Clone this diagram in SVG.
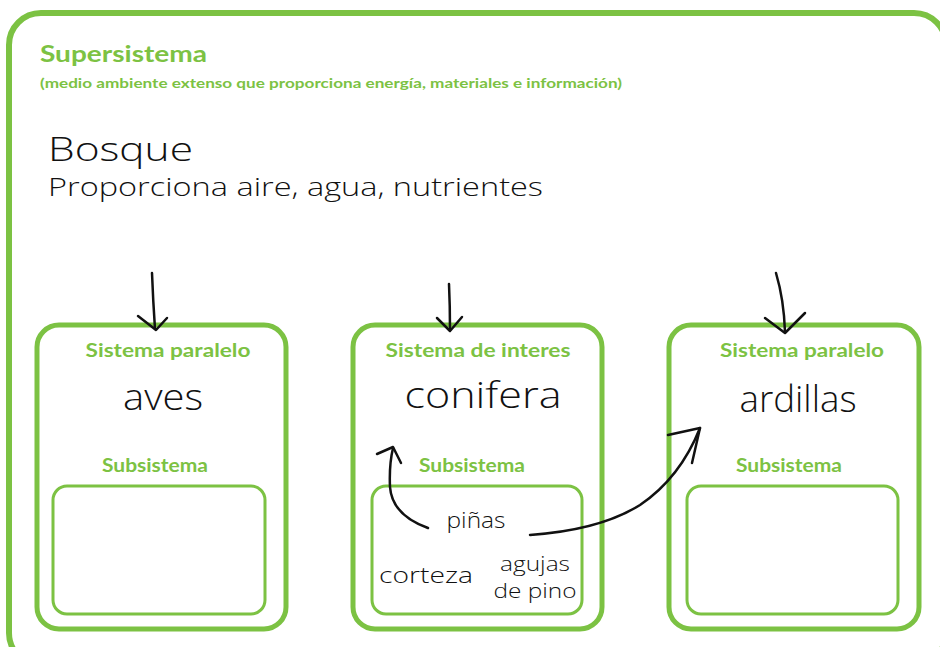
<svg xmlns="http://www.w3.org/2000/svg" width="940" height="647" viewBox="0 0 940 647">
<style>
.frame{fill:none;stroke:#7cc243;stroke-width:6}
.box{fill:none;stroke:#7cc243;stroke-width:5}
.sub{fill:none;stroke:#7cc243;stroke-width:3}
.g{font-family:Lato,"Open Sans","Liberation Sans",sans-serif;font-weight:700;fill:#7cc243}
.h{font-family:"Open Sans","DejaVu Sans",sans-serif;font-weight:300;fill:#111}
.arr{fill:none;stroke:#111;stroke-width:2.5;stroke-linecap:round;stroke-linejoin:round}
</style>
<rect width="940" height="647" fill="#fff"/>
<g id="supersistema">
<rect class="frame" x="9" y="13" width="937" height="652" rx="32"/>
<text class="g" x="40" y="62" font-size="22" textLength="167" lengthAdjust="spacingAndGlyphs">Supersistema</text>
<text class="g" x="40" y="88" font-size="13" textLength="582" lengthAdjust="spacingAndGlyphs">(medio ambiente extenso que proporciona energía, materiales e información)</text>
<text class="h" x="48" y="161" font-size="33" textLength="145" lengthAdjust="spacingAndGlyphs">Bosque</text>
<text class="h" x="48" y="196" font-size="25" textLength="495" lengthAdjust="spacingAndGlyphs">Proporciona aire, agua, nutrientes</text>
</g>
<g id="aves">
<rect class="box" x="37" y="325" width="249" height="304" rx="22"/>
<text class="g" x="168" y="357" font-size="18" text-anchor="middle" textLength="165" lengthAdjust="spacingAndGlyphs">Sistema paralelo</text>
<text class="h" x="163" y="410" font-size="36" text-anchor="middle" textLength="80" lengthAdjust="spacingAndGlyphs">aves</text>
<text class="g" x="155" y="472" font-size="18" text-anchor="middle" textLength="106" lengthAdjust="spacingAndGlyphs">Subsistema</text>
<rect class="sub" x="53" y="486" width="212" height="128" rx="14"/>
</g>
<g id="conifera">
<rect class="box" x="353" y="325" width="249" height="304" rx="22"/>
<text class="g" x="478" y="357" font-size="18" text-anchor="middle" textLength="185" lengthAdjust="spacingAndGlyphs">Sistema de interes</text>
<text class="h" x="483" y="408" font-size="36" text-anchor="middle" textLength="157" lengthAdjust="spacingAndGlyphs">conifera</text>
<text class="g" x="472" y="472" font-size="18" text-anchor="middle" textLength="106" lengthAdjust="spacingAndGlyphs">Subsistema</text>
<rect class="sub" x="372" y="486" width="210" height="128" rx="14"/>
<text class="h" x="476" y="528" font-size="22" text-anchor="middle" textLength="59" lengthAdjust="spacingAndGlyphs">piñas</text>
<text class="h" x="426" y="583" font-size="22" text-anchor="middle" textLength="94" lengthAdjust="spacingAndGlyphs">corteza</text>
<text class="h" x="535" y="571" font-size="20" text-anchor="middle" textLength="70" lengthAdjust="spacingAndGlyphs">agujas</text>
<text class="h" x="535" y="598" font-size="20" text-anchor="middle" textLength="83" lengthAdjust="spacingAndGlyphs">de pino</text>
</g>
<g id="ardillas">
<rect class="box" x="669" y="325" width="250" height="304" rx="22"/>
<text class="g" x="802" y="357" font-size="18" text-anchor="middle" textLength="164" lengthAdjust="spacingAndGlyphs">Sistema paralelo</text>
<text class="h" x="798" y="412" font-size="36" text-anchor="middle" textLength="117" lengthAdjust="spacingAndGlyphs">ardillas</text>
<text class="g" x="789" y="472" font-size="18" text-anchor="middle" textLength="106" lengthAdjust="spacingAndGlyphs">Subsistema</text>
<rect class="sub" x="687" y="486" width="211" height="128" rx="14"/>
</g>
<g id="connectors">
<path class="arr" d="M152 273 Q153 300 155 329"/>
<path class="arr" d="M138 316 L156 330 L167 318"/>
<path class="arr" d="M449 284 Q450 306 450 330"/>
<path class="arr" d="M437 318 L450 331 L462 317"/>
<path class="arr" d="M776 273 Q784 300 785 332"/>
<path class="arr" d="M765 318 L785 333 L805 313"/>
<path class="arr" d="M428 528 Q392 515 390 487 Q389 465 393 448"/>
<path class="arr" d="M377 454 L393 447 L401 463"/>
<path class="arr" d="M530 535 Q600 530 640 505 Q680 478 700 428"/>
<path class="arr" d="M668 435 L700 428 L692 463"/>
</g>
</svg>
